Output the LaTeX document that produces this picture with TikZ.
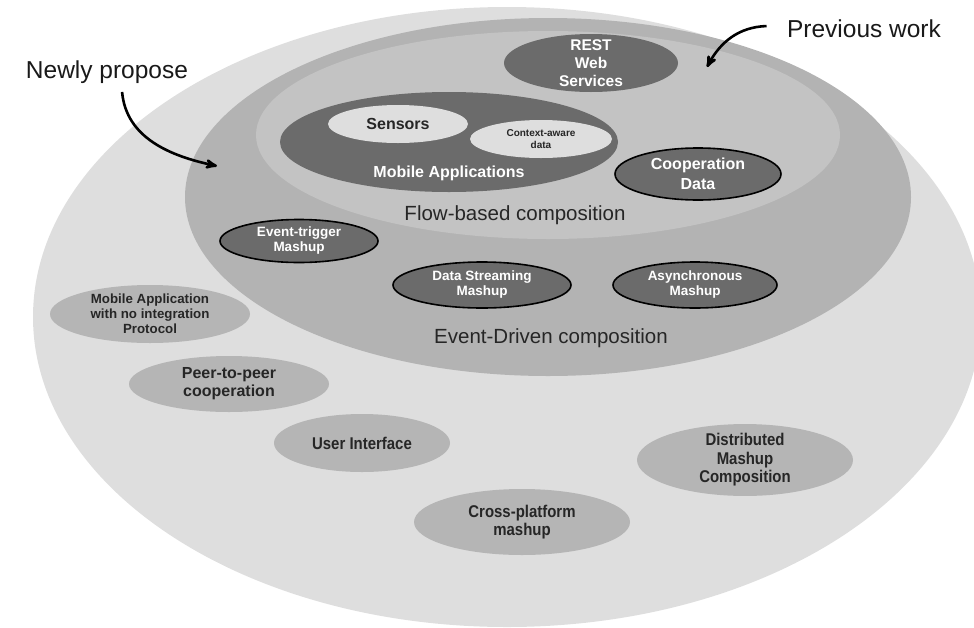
\documentclass[tikz,border=0pt]{standalone}
\usepackage{fontspec}
\setmainfont{Liberation Sans}
\newfontfamily\narrowfont[FakeStretch=0.88]{Liberation Sans}
\usetikzlibrary{arrows,positioning,shapes.geometric}
\definecolor{outergray}{HTML}{DEDEDE}
\definecolor{midgray}{HTML}{B3B3B3}
\definecolor{flowgray}{HTML}{C3C3C3}
\definecolor{darkgray}{HTML}{6B6B6B}
\definecolor{palegray}{HTML}{DEDEDE}
\definecolor{softgray}{HTML}{B5B5B5}
\tikzset{
    %Define standard arrow tip
    >=stealth',
    %Define style for the curved arrows
    pil/.style={
           ->,
           line width=2.6pt,
           shorten <=1pt,},
    %Define style for the big areas
    area/.style={ellipse, inner sep=0pt, draw=none},
    %Define style for the area captions
    caption/.style={font=\fontsize{20.5}{24}\selectfont, text=black!85},
    %Define style for the side notes
    note/.style={font=\fontsize{24.5}{28}\selectfont, text=black!90},
    %Define style for the dark bubbles
    darkblob/.style={ellipse, inner sep=0pt, fill=darkgray, text=white,
           align=center, font=\bfseries\fontsize{13.5}{15}\selectfont},
    %Define style for the outlined bubbles
    ringblob/.style={darkblob, draw=black, line width=1.6pt},
    %Define style for the pale bubbles
    paleblob/.style={ellipse, inner sep=0pt, fill=palegray, text=black!85,
           align=center, font=\bfseries\fontsize{16}{19}\selectfont},
    %Define style for the loose bubbles
    softblob/.style={ellipse, inner sep=-1pt, fill=softgray, text=black!85,
           align=center, font=\bfseries\fontsize{16}{18}\selectfont},
}

\begin{document}
\begin{tikzpicture}[x=1pt, y=1pt, node distance=1cm, auto,]
 \useasboundingbox (0,-627) rectangle (974,0);
 %areas
 \node[area, fill=outergray, minimum width=948, minimum height=620] (outer) at (507,-317) {};
 \node[area, fill=midgray, minimum width=726, minimum height=358] (evdriven) at (548,-197) {};
 \node[area, fill=flowgray, minimum width=584, minimum height=208] (flow) at (548,-135) {};
 \node[area, fill=darkgray, minimum width=338, minimum height=100] (mobapps) at (449,-142) {};

 %captions
 \node[caption] (flowlabel) at (515,-215) {Flow-based composition};
 \node[caption] (evlabel) at (551,-338) {Event-Driven composition};
 \node[note] (newly) at (107,-72) {Newly propose};
 \node[note] (prev) at (864,-29) {Previous work};
 \node[above=8pt of mobapps.south, text=white, font=\bfseries\fontsize{16}{19}\selectfont] (mobapplabel) {Mobile Applications};

 %flow-based bubbles
 \node[darkblob, inner sep=-6pt, minimum width=174, minimum height=58,
       font=\bfseries\fontsize{15.5}{18}\selectfont] (rest) at (591,-63) {REST\\Web\\Services};
 \node[paleblob, minimum width=140, minimum height=38] (sensors) at (398,-124) {Sensors};
 \node[paleblob, minimum width=142, minimum height=38,
       font=\bfseries\fontsize{10}{12}\selectfont] (context) at (541,-139) {Context-aware\\data};
 \node[ringblob, minimum width=166, minimum height=52,
       font=\bfseries\fontsize{16}{20}\selectfont] (coop) at (698,-174) {Cooperation\\Data};

 %event-driven bubbles
 \node[ringblob, minimum width=158, minimum height=43] (trigger) at (299,-241) {Event-trigger\\Mashup};
 \node[ringblob, minimum width=178, minimum height=46] (streaming) at (482,-285) {Data Streaming\\Mashup};
 \node[ringblob, minimum width=164, minimum height=46] (async) at (695,-285) {Asynchronous\\Mashup};

 %other bubbles
 \node[softblob, minimum width=200, minimum height=58,
       font=\bfseries\fontsize{13.3}{15}\selectfont] (noproto) at (150,-314) {Mobile Application\\with no integration\\Protocol};
 \node[softblob, minimum width=200, minimum height=56] (p2p) at (229,-384) {Peer-to-peer\\cooperation};
 \node[softblob, minimum width=176, minimum height=58,
       font=\narrowfont\bfseries\fontsize{17}{18.5}\selectfont] (ui) at (362,-443) {User Interface};
 \node[softblob, minimum width=216, minimum height=70,
       font=\narrowfont\bfseries\fontsize{17}{18.5}\selectfont] (distrib) at (745,-460) {Distributed\\Mashup\\Composition};
 \node[softblob, minimum width=216, minimum height=66,
       font=\narrowfont\bfseries\fontsize{17}{18.5}\selectfont] (cross) at (522,-522) {Cross-platform\\mashup};

 %arrows
 \coordinate (newtip) at (217,-166);
 \coordinate (prevtip) at (707,-67);
 \draw[pil] ([xshift=15pt,yshift=-4pt]newly.south) to[out=-85, in=168] (newtip);
 \draw[pil] ([xshift=-16pt,yshift=3pt]prev.west) to[out=182, in=62] (prevtip);

\end{tikzpicture}
\end{document}
